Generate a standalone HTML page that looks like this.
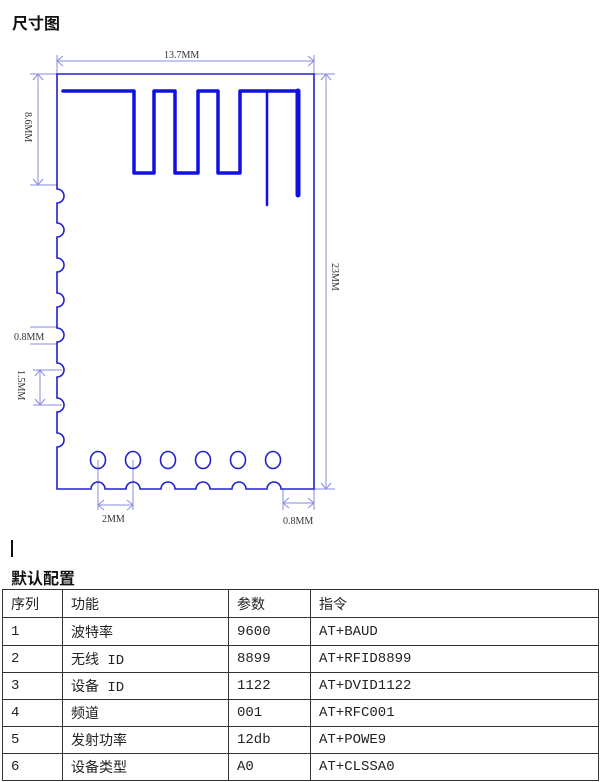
<!DOCTYPE html>
<html><head><meta charset="utf-8"><style>
body{margin:0;width:600px;height:782px;background:#fff;position:relative;overflow:hidden;font-family:"Liberation Sans","Noto Sans CJK SC",sans-serif}
.t{position:absolute;font-weight:bold;font-size:16px;color:#111}
table{position:absolute;left:2px;top:589px;border-collapse:collapse;font-family:"Liberation Mono","Noto Sans CJK SC",monospace;font-size:14px;color:#222}
td{border:1px solid #333;height:26px;padding:0 0 0 8px;box-sizing:border-box}
</style></head><body>
<div class="t" style="left:12px;top:10px">尺寸图</div>
<svg width="600" height="540" style="position:absolute;left:0;top:0" font-family="Liberation Serif,serif" font-size="10" fill="#333">
<g stroke="#8a8ae0" stroke-width="1" fill="none">
<line x1="57" y1="61" x2="314" y2="61"/><path d="M63,56 L57,61 L63,66 M308,56 L314,61 L308,66"/>
<line x1="57" y1="55" x2="57" y2="74"/><line x1="314" y1="55" x2="314" y2="74"/>
<line x1="30" y1="74" x2="57" y2="74"/><line x1="314" y1="74" x2="335" y2="74"/>
<line x1="38" y1="74" x2="38" y2="185"/><path d="M33,80 L38,74 L43,80 M33,179 L38,185 L43,179"/>
<line x1="30" y1="185" x2="57" y2="185"/>
<line x1="326" y1="74" x2="326" y2="489"/><path d="M321,80 L326,74 L331,80 M321,483 L326,489 L331,483"/>
<line x1="314" y1="489" x2="335" y2="489"/>
<line x1="30" y1="327" x2="57" y2="327"/><line x1="30" y1="344" x2="57" y2="344"/>
<line x1="33" y1="370" x2="62" y2="370"/><line x1="33" y1="405" x2="62" y2="405"/>
<line x1="40" y1="370" x2="40" y2="405"/><path d="M35,376 L40,370 L45,376 M35,399 L40,405 L45,399"/>
<line x1="98" y1="460" x2="98" y2="510"/><line x1="133" y1="460" x2="133" y2="510"/>
<line x1="98" y1="505" x2="133" y2="505"/><path d="M104,500 L98,505 L104,510 M127,500 L133,505 L127,510"/>
<line x1="283" y1="489" x2="283" y2="510"/><line x1="314" y1="489" x2="314" y2="510"/>
<line x1="283" y1="503" x2="314" y2="503"/><path d="M289,498 L283,503 L289,508 M308,498 L314,503 L308,508"/>
</g>
<text x="164" y="58">13.7MM</text>
<text x="14" y="340">0.8MM</text>
<text x="102" y="522">2MM</text>
<text x="283" y="524">0.8MM</text>
<text transform="translate(25,112) rotate(90)">8.6MM</text>
<text transform="translate(18,370) rotate(90)">1.5MM</text>
<text transform="translate(332,263) rotate(90)">23MM</text>
<g stroke="#2020d0" stroke-width="1.6" fill="none">
<path d="M57,74 L314,74 L314,489 L281,489 A7,7 0 0 0 267,489 L246,489 A7,7 0 0 0 232,489 L210,489 A7,7 0 0 0 196,489 L175,489 A7,7 0 0 0 161,489 L140,489 A7,7 0 0 0 126,489 L105,489 A7,7 0 0 0 91,489 L57,489 L57,447
A7,7 0 0 0 57,433 L57,412 A7,7 0 0 0 57,398 L57,377 A7,7 0 0 0 57,363 L57,342 A7,7 0 0 0 57,328 L57,307 A7,7 0 0 0 57,293 L57,272 A7,7 0 0 0 57,258 L57,237 A7,7 0 0 0 57,223 L57,203 A7,7 0 0 0 57,189 Z"/>
<ellipse cx="98" cy="460" rx="7.5" ry="8.5"/><ellipse cx="133" cy="460" rx="7.5" ry="8.5"/><ellipse cx="168" cy="460" rx="7.5" ry="8.5"/><ellipse cx="203" cy="460" rx="7.5" ry="8.5"/><ellipse cx="238" cy="460" rx="7.5" ry="8.5"/><ellipse cx="273" cy="460" rx="7.5" ry="8.5"/>
</g>
<g stroke="#1010e0" stroke-width="3.5" fill="none" stroke-linecap="round" stroke-linejoin="round">
<path d="M63,91 L134,91 L134,173 L154,173 L154,91 L175,91 L175,173 L198,173 L198,91 L218,91 L218,173 L240,173 L240,91 L298,91"/>
<path d="M267,91 L267,205" stroke-width="2.5"/>
<path d="M298,91 L298,195" stroke-width="5"/>
</g>
</svg>
<div style="position:absolute;left:11px;top:540px;width:2px;height:17px;background:#111"></div>
<div class="t" style="left:11px;top:565px">默认配置</div>
<table>
<colgroup><col style="width:60px"><col style="width:166px"><col style="width:82px"><col style="width:288px"></colgroup>
<tr style="height:28px"><td>序列</td><td>功能</td><td>参数</td><td>指令</td></tr>
<tr style="height:28px"><td>1</td><td>波特率</td><td>9600</td><td>AT+BAUD</td></tr>
<tr style="height:27px"><td>2</td><td>无线 ID</td><td>8899</td><td>AT+RFID8899</td></tr>
<tr style="height:27px"><td>3</td><td>设备 ID</td><td>1122</td><td>AT+DVID1122</td></tr>
<tr style="height:27px"><td>4</td><td>频道</td><td>001</td><td>AT+RFC001</td></tr>
<tr style="height:27px"><td>5</td><td>发射功率</td><td>12db</td><td>AT+POWE9</td></tr>
<tr style="height:27px"><td>6</td><td>设备类型</td><td>A0</td><td>AT+CLSSA0</td></tr>
</table>
</body></html>
